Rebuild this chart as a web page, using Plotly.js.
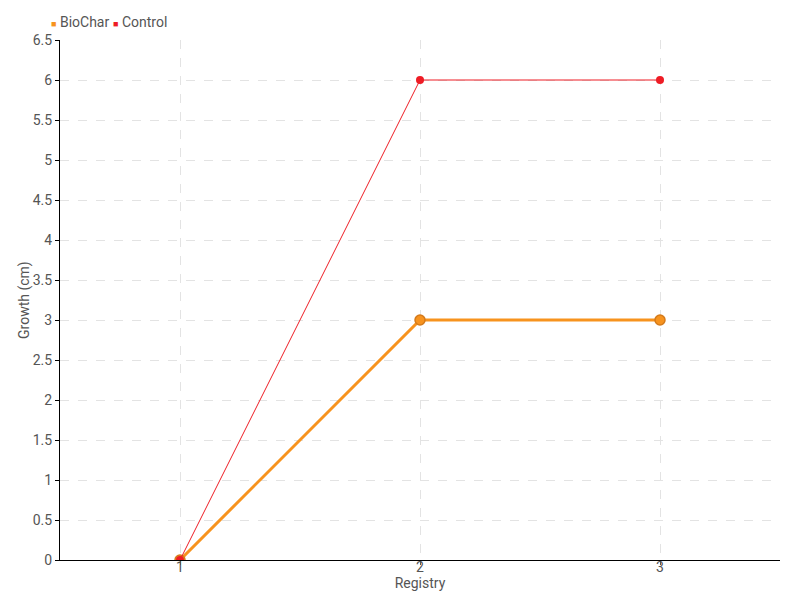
<!DOCTYPE html>
<html>
<head>
<meta charset="utf-8">
<script src="https://cdn.plot.ly/plotly-3.0.1.min.js"></script>
<style>html,body{margin:0;padding:0;background:#fff}#chart{width:800px;height:600px}</style>
</head>
<body>
<div id="chart"></div>
<script>
var registry = [1, 2, 3];
var biochar = [0, 3, 3];
var control = [0, 6, 6];
var seriesNames = ['BioChar', 'Control'];
var yTicks = [0, 0.5, 1, 1.5, 2, 2.5, 3, 3.5, 4, 4.5, 5, 5.5, 6, 6.5];
var xTitle = 'Registry';
var yTitle = 'Growth (cm)';

var FONT = 'Roboto, "Liberation Sans Narrow", sans-serif';
var orange = '#f7931e';
var red = '#ee1c25';
var colors = [orange, red];
var TXT = '#555';

var traces = [
  {x: registry, y: biochar, type: 'scatter', mode: 'lines+markers', name: seriesNames[0],
   line: {color: orange, width: 3}, marker: {color: orange, size: 10, line: {color: '#d47a1a', width: 1.5}}},
  {x: registry, y: control, type: 'scatter', mode: 'lines+markers', name: seriesNames[1],
   line: {color: red, width: 1}, marker: {color: red, size: 8}}
];

// legend drawn as annotations (coloured square + series name)
var legendX = [-0.0153, 0.0708];
var legendAnn = seriesNames.map(function (n, i) {
  return {
    text: '<span style="color:' + colors[i] + ';font-size:9px">■</span> ' + n,
    xref: 'paper', yref: 'paper', x: legendX[i], y: 1.0346, xanchor: 'left', yanchor: 'middle',
    showarrow: false, font: {family: FONT, size: 14, color: TXT}
  };
});

var layout = {
  width: 800, height: 600,
  margin: {l: 60, r: 20, t: 40, b: 40, autoexpand: false},
  paper_bgcolor: '#fff', plot_bgcolor: '#fff',
  font: {family: FONT, size: 14, color: TXT},
  showlegend: false,
  xaxis: {
    range: [0.5, 3.5], tickvals: registry, ticktext: registry.map(String),
    showline: true, linecolor: '#000', linewidth: 1, zeroline: false,
    ticks: 'outside', ticklen: 4, tickcolor: '#555', tickwidth: 1, ticklabelstandoff: -10,
    showgrid: true, gridcolor: '#e3e3e3', griddash: 'dash', gridwidth: 1,
    tickfont: {family: FONT, size: 14, color: TXT},
    title: {text: xTitle, standoff: 0, font: {family: FONT, size: 14, color: TXT}}
  },
  yaxis: {
    range: [0, 6.5], tickvals: yTicks, ticktext: yTicks.map(String),
    showline: true, linecolor: '#000', linewidth: 1, zeroline: false,
    ticks: 'outside', ticklen: 4, tickcolor: '#000', tickwidth: 1,
    showgrid: true, gridcolor: '#e3e3e3', griddash: 'dash', gridwidth: 1,
    tickfont: {family: FONT, size: 14, color: TXT}
  },
  annotations: legendAnn.concat([
    {text: yTitle, xref: 'paper', yref: 'paper', x: -0.05, y: 0.5, xanchor: 'center', yanchor: 'middle',
     textangle: -90, showarrow: false, font: {family: FONT, size: 14, color: TXT}}
  ])
};

Plotly.newPlot('chart', traces, layout, {displayModeBar: false, staticPlot: true});
</script>
</body>
</html>
